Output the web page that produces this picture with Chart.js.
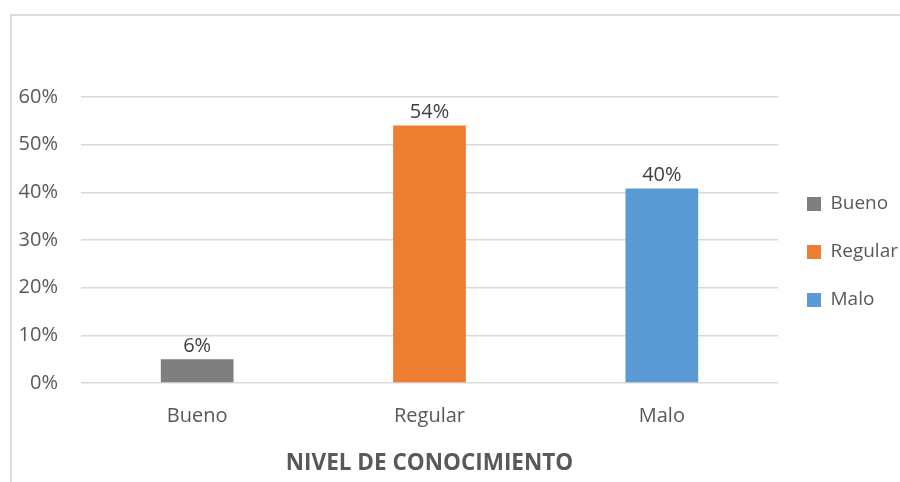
<!DOCTYPE html>
<html>
<head>
<meta charset="utf-8">
<script src="https://cdn.jsdelivr.net/npm/chart.js@4"></script>
<style>
  html, body { margin: 0; padding: 0; background: #ffffff; }
  #wrap { position: relative; width: 900px; height: 482px; overflow: hidden; }
  #frame { position: absolute; left: 10px; top: 14px; width: 900px; height: 480px;
           border-left: 2px solid #dcdcdc; border-top: 2px solid #dcdcdc; box-sizing: border-box; }
  canvas { position: absolute; left: 0; top: 0; }
</style>
</head>
<body>
<div id="wrap">
  <div id="frame"></div>
  <canvas id="c" width="900" height="482"></canvas>
</div>
<script>
// ---- data ----
const categories = ['Bueno', 'Regular', 'Malo'];
const values = [5.0, 54.0, 40.8];            // bar heights in %
const valueLabels = ['6%', '54%', '40%'];     // data label texts as printed
const barColors = ['#7f7f7f', '#ed7d31', '#5b9bd5'];
const yTickMax = 60;
const yTickStep = 10;
const axisTitle = 'NIVEL DE CONOCIMIENTO';

const FONT = "'Open Sans', 'Liberation Sans', sans-serif";
const TEXT = '#595959';

const dataLabelPlugin = {
  id: 'dataLabels',
  afterDatasetsDraw(chart) {
    const ctx = chart.ctx;
    const meta = chart.getDatasetMeta(0);
    ctx.save();
    ctx.font = "20px " + FONT;
    ctx.fillStyle = '#404040';
    ctx.textAlign = 'center';
    ctx.textBaseline = 'middle';
    meta.data.forEach((bar, i) => {
      ctx.fillText(valueLabels[i], bar.x, bar.y - 13);
    });
    ctx.restore();
  }
};

new Chart(document.getElementById('c'), {
  type: 'bar',
  data: {
    labels: categories,
    datasets: [{
      data: values,
      backgroundColor: barColors,
      borderWidth: 0,
      barPercentage: 0.313,
      categoryPercentage: 1.0
    }]
  },
  options: {
    responsive: false,
    animation: false,
    devicePixelRatio: 1,
    layout: { padding: { left: 10, top: 97, right: 0, bottom: 5 } },
    plugins: {
      tooltip: { enabled: false },
      legend: {
        position: 'right',
        align: 'center',
        fullSize: false,
        maxWidth: 122,
        title: { display: true, text: ' ', font: { size: 10, lineHeight: 1.2 }, padding: { top: 0, bottom: 12 } },
        labels: {
          boxWidth: 14,
          boxHeight: 14,
          padding: 29,
          color: TEXT,
          font: { family: FONT, size: 19 },
          generateLabels(chart) {
            return categories.map((c, i) => ({
              text: c,
              fillStyle: barColors[i],
              strokeStyle: barColors[i],
              lineWidth: 0,
              hidden: false,
              index: i,
              fontColor: TEXT
            }));
          }
        }
      }
    },
    scales: {
      x: {
        grid: { display: false, drawTicks: false },
        border: { display: false },
        ticks: { color: TEXT, font: { family: FONT, size: 20, lineHeight: 1.2 }, padding: 21 },
        title: {
          display: true,
          text: axisTitle,
          color: TEXT,
          font: { family: FONT, size: 22.5, weight: 'bold', lineHeight: 1.2 },
          padding: { top: 1, bottom: 0 }
        }
      },
      y: {
        min: 0,
        max: yTickMax,
        afterFit(scale) { scale.width = 71; },
        grid: { color: '#d9d9d9', lineWidth: 1.5, drawTicks: false },
        border: { display: false },
        ticks: {
          stepSize: yTickStep,
          padding: 23,
          color: TEXT,
          font: { family: FONT, size: 20 },
          callback: (v) => v + '%'
        }
      }
    }
  },
  plugins: [dataLabelPlugin]
});
</script>
</body>
</html>
